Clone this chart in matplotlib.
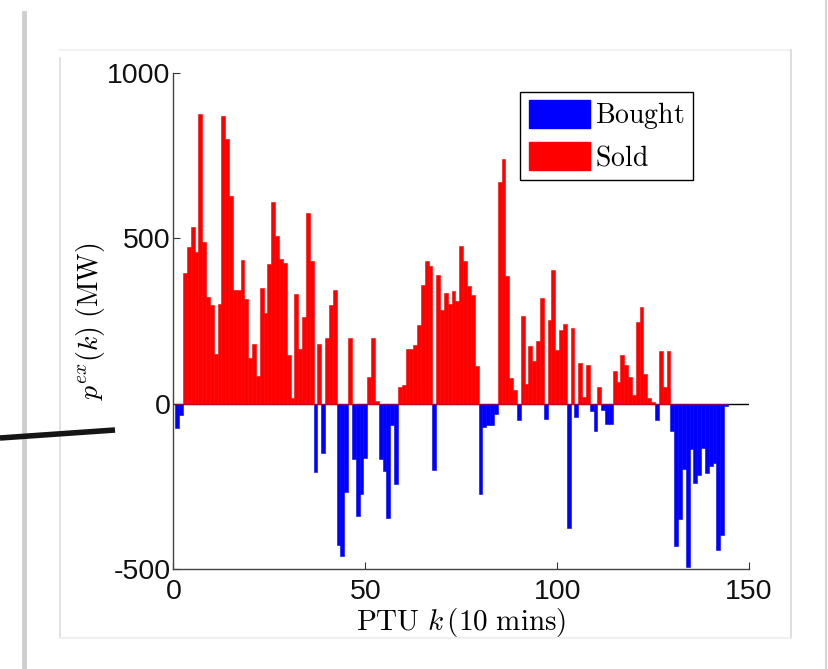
import numpy as np
import matplotlib
matplotlib.use('Agg')
import matplotlib.pyplot as plt
from matplotlib.patches import Patch
from matplotlib.lines import Line2D

plt.rcParams['mathtext.fontset'] = 'cm'
plt.rcParams['font.family'] = ['Liberation Sans', 'DejaVu Sans']
plt.rcParams['axes.unicode_minus'] = False

# PTU index (10 min steps)
ptu = np.arange(1, 145)

# net exchange, MW (negative = bought, positive = sold)
net_mw = [
    -75, -35, 394, 474, 534, 458, 876, 488, 324, 299,
    150, 301, 869, 799, 629, 344, 344, 434, 318, 138,
    181, 83, 351, 274, 421, 611, 506, 439, 426, 146,
    16, 331, 166, 263, 577, 430, -207, 180, -150, 200,
    297, 345, -427, -461, -266, 199, -168, -339, -274, -163,
    80, 199, 7, -168, -205, -347, -64, -243, 49, 56,
    164, 164, 177, 237, 359, 431, 417, -200, 388, 284,
    336, 302, 340, 311, 477, 432, 356, 329, 114, -273,
    -71, -65, -65, -31, 669, 740, 386, 78, 40, -48,
    265, 58, 174, 128, 191, 320, -46, 253, 403, 161,
    224, 241, -375, 229, -41, 123, 19, 118, -23, -82,
    50, -18, -60, -60, 98, 66, 146, 116, 80, 27,
    246, 293, 91, 17, 4, -48, 159, 50, 159, -82,
    -430, -350, -197, -495, -137, -240, -215, -134, -210, -190,
    -180, -443, -397, -8,
]

net = np.array(net_mw, dtype=float)
bought = np.minimum(net, 0)
sold = np.maximum(net, 0)

W, H = 829, 669
fig = plt.figure(figsize=(W / 100, H / 100), dpi=100)
fig.patch.set_facecolor('white')


def px(x, y):
    return x / W, 1 - y / H


# slide frame decorations
def fline(xs, ys, **kw):
    fx = [x / W for x in xs]
    fy = [1 - y / H for y in ys]
    fig.add_artist(Line2D(fx, fy, transform=fig.transFigure, **kw))


fline([24, 24], [13, 669], color='#cfcfcf', lw=3.5)
fline([826, 826], [0, 669], color='#d6d6d6', lw=1.5)
fline([60, 60], [58, 638], color='#dcdcdc', lw=1.2)
fline([60, 791], [50, 50], color='#f0f0f0', lw=1.2)
fline([791, 791], [50, 638], color='#d8d8d8', lw=1.2)
fline([60, 791], [638, 638], color='#eeeeee', lw=1.2)
# pencil stroke at the left
fline([0, 115], [438, 430], color='#151515', lw=4.0, solid_capstyle='butt')

l, b = px(173.5, 569)
r, t = px(749, 73)
ax = fig.add_axes([l, b, r - l, t - b])

ax.axhline(0, color='black', lw=1.0, zorder=1)
ax.bar(ptu, bought, width=1.0, color='#0000ff', edgecolor='#0000ff',
       linewidth=0.4, zorder=2)
ax.bar(ptu, sold, width=1.0, color='#ff0000', edgecolor='#ff0000',
       linewidth=0.4, zorder=3)

ax.set_xlim(0, 150)
ax.set_ylim(-500, 1000)
ax.set_xticks([0, 50, 100, 150])
ax.set_yticks([-500, 0, 500, 1000])
ax.tick_params(direction='in', length=5, width=0.8, colors='#333333',
               labelsize=20.5, labelcolor='#111111')
ax.tick_params(axis='x', pad=7)
ax.tick_params(axis='y', pad=2)
for s in ['top', 'right']:
    ax.spines[s].set_visible(False)
for s in ['left', 'bottom']:
    ax.spines[s].set_color('#444444')
    ax.spines[s].set_linewidth(1.0)

ax.set_xlabel(r'$\mathrm{PTU}\ k\,(10\ \mathrm{mins})$', fontsize=21, labelpad=1)
ax.set_ylabel(r'$p^{ex}(k)\ (\mathrm{MW})$', fontsize=20, labelpad=0)

handles = [Patch(facecolor='#0000ff', edgecolor='#0000ff'),
           Patch(facecolor='#ff0000', edgecolor='#ff0000')]
leg = ax.legend(handles, [r'$\mathrm{Bought}$', r'$\mathrm{Sold}$'],
                loc='upper right', bbox_to_anchor=(0.903, 0.962),
                fontsize=20, frameon=True, fancybox=False, framealpha=1,
                edgecolor='black', handlelength=2.2, handleheight=1.15,
                handletextpad=0.2, labelspacing=0.4, borderpad=0.3,
                borderaxespad=0)
leg.get_frame().set_linewidth(1.0)

fig.savefig('out.png', dpi=100, facecolor=fig.get_facecolor())
